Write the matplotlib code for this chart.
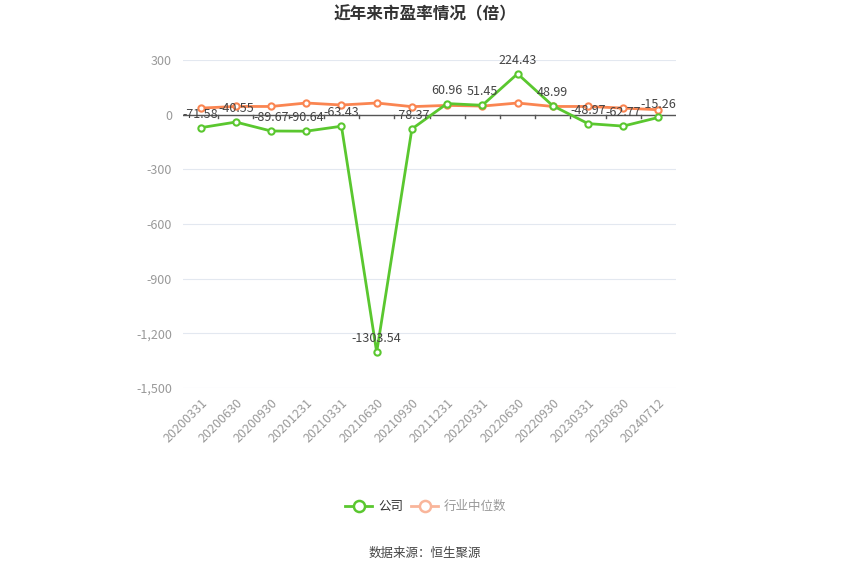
import matplotlib
matplotlib.use("Agg")
import matplotlib.pyplot as plt
from matplotlib.ticker import FuncFormatter

plt.rcParams["font.family"] = "Noto Sans CJK SC"

dates = ["20200331", "20200630", "20200930", "20201231", "20210331", "20210630", "20210930",
         "20211231", "20220331", "20220630", "20220930", "20230331", "20230630", "20240712"]
company = [-71.58, -40.55, -89.67, -90.64, -63.43, -1303.54, -78.37,
           60.96, 51.45, 224.43, 48.99, -48.97, -62.77, -15.26]
industry = [36, 45, 45, 64, 53, 64, 44, 51, 47, 64, 45, 45, 36, 27]
yticks = [300, 0, -300, -600, -900, -1200, -1500]

fig = plt.figure(figsize=(8.5, 5.75), dpi=100)
ax = fig.add_axes([183/850, 1-388/575, (676-183)/850, (388-60)/575])
x = list(range(len(dates)))
green = "#5ac72f"
orange = "#fa8551"

ax.plot(x, company, color=green, lw=2, marker="o", ms=4.5, mfc="white", mec=green, mew=1.5, zorder=4)
ax.plot(x, industry, color=orange, lw=2, marker="o", ms=4.5, mfc="white", mec=orange, mew=1.5, zorder=3)
for xi, v in zip(x, company):
    ax.annotate(f"{v:.2f}", (xi, v), xytext=(0, 5), textcoords="offset points",
                ha="center", va="bottom", fontsize=9, color="#444444", zorder=5)

ax.set_xlim(-0.5, len(dates) - 0.5)
ax.set_ylim(-1500, 300)
ax.set_yticks(yticks)
ax.yaxis.set_major_formatter(FuncFormatter(lambda v, p: f"{int(v):,}"))
ax.grid(axis="y", color="#e3e8f0", lw=0.8)
ax.axhline(0, color="#555555", lw=1, zorder=2)
for s in ax.spines.values():
    s.set_visible(False)
ax.tick_params(axis="y", length=0, colors="#999999", labelsize=9, pad=8)
ax.set_xticks(x)
ax.set_xticklabels(dates, rotation=45, ha="right", rotation_mode="anchor", fontsize=9, color="#999999")
ax.tick_params(axis="x", length=0, pad=6)
# tick marks on zero line between categories
for b in [i + 0.5 for i in x[:-1]]:
    ax.plot([b, b], [0, -18], color="#555555", lw=1, zorder=2)

fig.text(0.5, 1-14/575, "近年来市盈率情况（倍）", ha="center", va="center", fontsize=12, weight="bold", color="#333333")

ly = 1 - 506/575
fig.lines.append(plt.Line2D([345/850, 372/850], [ly, ly], color=green, lw=2, transform=fig.transFigure))
fig.lines.append(plt.Line2D([358.5/850], [ly], color=green, marker="o", ms=8, mfc="white", mec=green, mew=1.8, transform=fig.transFigure))
fig.text(378/850, ly, "公司", va="center", fontsize=9, color="#333333")
fig.lines.append(plt.Line2D([411/850, 438/850], [ly, ly], color="#f9b59a", lw=2, transform=fig.transFigure))
fig.lines.append(plt.Line2D([424.5/850], [ly], color="#f9b59a", marker="o", ms=8, mfc="white", mec="#f9b59a", mew=1.8, transform=fig.transFigure))
fig.text(444/850, ly, "行业中位数", va="center", fontsize=9, color="#999999")

fig.text(0.5, 1-553/575, "数据来源：恒生聚源", ha="center", va="center", fontsize=9, color="#444444")

fig.savefig("out.png", dpi=100, facecolor="white")
